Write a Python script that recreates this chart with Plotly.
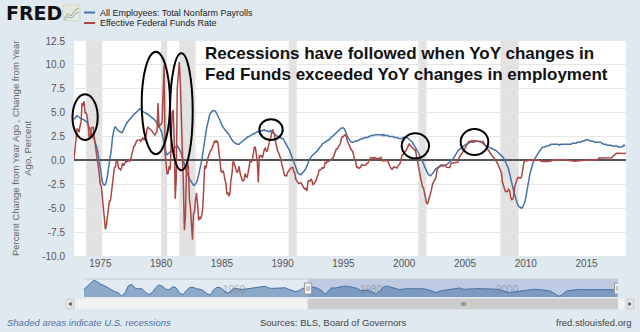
import pandas as pd
import plotly.graph_objects as go

# ---------------- data (monthly, starting Nov 1972) ----------------
series_start = "1972-11-01"

payrolls_yoy = [
    4.3, 4.4,
    4.6, 4.7, 4.6, 4.5, 4.5, 4.4, 4.3, 4.3, 4.2, 4.2, 4.1, 4.0,
    3.7, 3.4, 3.1, 2.9, 2.7, 2.4, 2.2, 1.9, 1.6, 1.2, 0.6, -0.2,
    -1.0, -1.6, -2.2, -2.5, -2.6, -2.5, -2.2, -1.6, -1.0, -0.4, 0.2, 1.2,
    2.4, 3.0, 3.4, 3.5, 3.3, 3.2, 3.1, 3.0, 3.0, 2.9, 3.0, 3.3,
    3.5, 3.7, 3.9, 4.0, 4.2, 4.3, 4.4, 4.5, 4.6, 4.8, 4.9, 5.0,
    5.1, 5.2, 5.3, 5.4, 5.3, 5.2, 5.1, 5.1, 5.0, 4.9, 4.9, 4.8,
    4.7, 4.6, 4.6, 4.5, 4.4, 4.3, 4.2, 4.0, 3.9, 3.8, 3.6, 3.4,
    3.1, 2.8, 2.4, 1.8, 1.1, 0.7, 0.6, 0.7, 0.8, 0.9, 1.1, 1.2,
    1.3, 1.4, 1.4, 1.4, 1.5, 1.4, 1.2, 1.0, 0.7, 0.3, 0.0, -0.4,
    -0.9, -1.2, -1.5, -1.7, -1.9, -2.1, -2.3, -2.5, -2.6, -2.6, -2.5, -2.3,
    -2.0, -1.6, -1.1, -0.6, -0.1, 0.5, 1.2, 1.9, 2.7, 3.4, 4.0, 4.5,
    4.8, 5.0, 5.1, 5.2, 5.2, 5.2, 5.1, 4.9, 4.7, 4.5, 4.2, 4.0,
    3.7, 3.5, 3.4, 3.2, 3.1, 3.0, 2.9, 2.7, 2.5, 2.3, 2.1, 2.0,
    1.9, 1.8, 1.7, 1.7, 1.7, 1.7, 1.8, 1.9, 2.0, 2.1, 2.1, 2.2,
    2.3, 2.4, 2.5, 2.5, 2.6, 2.7, 2.7, 2.8, 2.8, 2.9, 2.9, 3.0,
    3.0, 3.1, 3.1, 3.1, 3.1, 3.2, 3.2, 3.1, 3.1, 3.1, 3.0, 3.0,
    3.1, 3.0, 2.9, 2.9, 2.8, 2.7, 2.6, 2.5, 2.5, 2.4, 2.4, 2.3,
    2.3, 2.2, 2.0, 1.8, 1.7, 1.5, 1.3, 1.0, 0.7, 0.4, 0.1, -0.3,
    -0.6, -0.9, -1.1, -1.3, -1.4, -1.5, -1.5, -1.4, -1.3, -1.2, -1.0, -0.8,
    -0.6, -0.3, 0.0, 0.2, 0.4, 0.5, 0.6, 0.7, 0.8, 0.9, 1.0, 1.1,
    1.3, 1.4, 1.5, 1.7, 1.8, 1.9, 2.0, 2.0, 2.1, 2.1, 2.2, 2.3,
    2.4, 2.5, 2.6, 2.7, 2.8, 2.9, 3.0, 3.1, 3.2, 3.3, 3.4, 3.4,
    3.4, 3.3, 3.0, 2.7, 2.5, 2.3, 2.1, 2.0, 1.9, 1.9, 1.9, 2.0,
    2.0, 2.0, 2.1, 2.1, 2.2, 2.2, 2.3, 2.3, 2.3, 2.4, 2.4, 2.4,
    2.4, 2.5, 2.5, 2.6, 2.6, 2.6, 2.6, 2.7, 2.7, 2.7, 2.7, 2.7,
    2.7, 2.7, 2.7, 2.6, 2.7, 2.6, 2.6, 2.6, 2.6, 2.5, 2.5, 2.5,
    2.5, 2.5, 2.4, 2.4, 2.4, 2.4, 2.3, 2.3, 2.3, 2.3, 2.3, 2.4,
    2.4, 2.4, 2.4, 2.4, 2.3, 2.2, 2.1, 2.0, 1.9, 1.7, 1.6, 1.4,
    1.2, 1.0, 0.8, 0.6, 0.4, 0.2, 0.0, -0.3, -0.6, -0.9, -1.1, -1.3,
    -1.5, -1.6, -1.6, -1.5, -1.4, -1.3, -1.1, -0.9, -0.8, -0.7, -0.6, -0.6,
    -0.6, -0.5, -0.6, -0.5, -0.5, -0.5, -0.4, -0.4, -0.3, -0.2, -0.1, 0.0,
    0.1, 0.3, 0.5, 0.7, 0.9, 1.0, 1.1, 1.2, 1.3, 1.4, 1.5, 1.6,
    1.6, 1.7, 1.7, 1.8, 1.8, 1.9, 1.9, 1.9, 1.9, 1.9, 2.0, 2.0,
    2.0, 2.0, 2.0, 2.0, 1.9, 1.8, 1.8, 1.7, 1.6, 1.5, 1.5, 1.4,
    1.4, 1.3, 1.3, 1.2, 1.2, 1.1, 1.1, 1.0, 0.9, 0.8, 0.8, 0.7,
    0.6, 0.4, 0.3, 0.1, -0.1, -0.3, -0.6, -0.9, -1.3, -1.7, -2.2, -2.7,
    -3.2, -3.6, -4.0, -4.3, -4.6, -4.8, -4.9, -5.0, -5.0, -4.9, -4.7, -4.4,
    -3.9, -3.4, -2.8, -2.1, -1.5, -1.0, -0.6, -0.3, 0.0, 0.2, 0.4, 0.5,
    0.7, 0.9, 1.0, 1.2, 1.3, 1.4, 1.4, 1.4, 1.5, 1.5, 1.5, 1.6,
    1.6, 1.7, 1.7, 1.7, 1.7, 1.7, 1.7, 1.7, 1.7, 1.6, 1.7, 1.7,
    1.7, 1.7, 1.7, 1.7, 1.7, 1.7, 1.7, 1.7, 1.7, 1.7, 1.8, 1.8,
    1.8, 1.8, 1.8, 1.9, 1.9, 1.9, 1.9, 2.0, 2.0, 2.0, 2.1, 2.1,
    2.2, 2.2, 2.1, 2.1, 2.1, 2.0, 2.0, 2.0, 1.9, 1.9, 1.9, 1.9,
    1.9, 1.9, 1.9, 1.8, 1.7, 1.7, 1.7, 1.7, 1.6, 1.6, 1.6, 1.6,
    1.6, 1.5, 1.5, 1.5, 1.5, 1.5, 1.5, 1.4, 1.4, 1.4, 1.4, 1.4,
    1.5, 1.6, 1.5,
]

fedfunds_change = [
    0.15, 1.19,
    2.65, 3.29, 3.26, 2.95, 3.57, 4.03, 6.0, 5.7, 6.2, 4.97, 4.97, 4.62,
    3.71, 2.39, 2.26, 3.39, 3.47, 3.44, 2.52, 1.51, 0.56, 0.05, -0.58, -1.42,
    -2.52, -2.73, -3.81, -5.02, -6.09, -7.2, -6.82, -5.87, -5.10, -4.24, -4.23, -3.33,
    -2.26, -1.47, -0.70, -0.67, 0.07, -0.07, -0.79, -0.85, -0.99, -0.79, -0.27, -0.55,
    -0.26, -0.09, -0.15, -0.09, 0.06, -0.09, 0.11, 0.61, 0.89, 1.44, 1.56, 1.91,
    2.09, 2.10, 2.10, 2.16, 2.01, 2.21, 2.39, 2.14, 2.31, 2.49, 3.25, 3.47,
    3.37, 3.28, 3.30, 3.12, 2.88, 2.69, 2.66, 2.90, 2.98, 6.0, 3.42, 3.75,
    3.75, 4.07, 8.5, 10.0, 0.74, -0.82, -1.44, -1.33, -0.56, -0.96, 2.67, 5.12,
    5.26, 1.80, -4.0, -1.89, 7.54, 9.63, 10.3, 8.21, 5.00, 2.27, -2.54, -7.3,
    -5.86, -1.15, -0.02, -0.78, -4.07, -4.95, -6.45, -8.3, -5.56, -5.37, -4.11, -3.42,
    -4.54, -6.27, -5.91, -6.14, -5.82, -5.17, -3.22, -0.56, -0.86, -0.23, 0.14, 0.52,
    0.88, 1.08, 1.14, 1.49, 1.69, 2.08, 1.86, 2.08, 1.85, 0.51, 0.09, -1.09,
    -1.21, -1.09, -1.33, -2.02, -2.35, -3.53, -3.35, -3.74, -3.38, -2.00, -1.38, -0.11,
    -0.21, -0.64, -1.10, -1.28, -1.12, -0.61, -1.32, -1.73, -2.03, -2.14, -2.01, -1.36,
    -1.71, -1.76, -1.35, -0.62, 0.00, -0.19, 0.02, 0.56, 1.33, 1.44, 0.65, -0.14,
    -2.3, 0.48, 0.45, 0.50, 0.24, 0.78, 1.17, 1.28, 0.97, 1.01, 1.66, 1.99,
    2.29, 2.78, 3.27, 2.97, 2.72, 2.02, 1.49, 0.98, 0.83, 0.54, 0.20, -0.31,
    -0.89, -1.12, -1.57, -1.58, -1.63, -1.24, -1.09, -0.86, -0.82, -0.73, -0.74, -1.14,
    -1.32, -1.99, -2.16, -2.35, -2.40, -2.39, -2.33, -2.47, -2.75, -2.90, -3.00, -2.88,
    -3.2, -2.19, -2.14, -2.18, -1.96, -2.14, -2.57, -2.36, -2.23, -2.11, -1.72, -1.51,
    -1.01, -1.03, -0.91, -0.77, -0.82, -0.72, -0.19, -0.27, -0.13, -0.11, -0.07, 0.04,
    0.03, 0.22, 0.27, 0.60, 1.01, 1.21, 1.20, 1.44, 1.64, 1.77, 2.27, 2.49,
    2.48, 2.67, 2.64, 2.49, 2.00, 1.75, 1.59, 1.27, 1.07, 1.00, 0.51, 0.15,
    0.03, -0.70, -0.67, -0.83, -0.77, -0.73, -0.45, -0.52, -0.50, -0.52, -0.49, -0.31,
    -0.31, -0.03, 0.08, 0.29, 0.26, 0.29, 0.12, 0.32, 0.24, 0.26, 0.21, 0.21,
    0.31, 0.32, 0.10, -0.06, -0.01, 0.00, 0.02, 0.01, -0.03, -0.43, -0.69, -0.82,
    -0.93, -0.75, -0.68, -0.71, -0.75, -0.80, -0.55, -0.48, -0.29, 0.13, 0.59, 0.62,
    0.82, 0.97, 1.04, 1.28, 1.53, 1.77, 1.55, 1.43, 1.30, 1.31, 1.09, 1.10,
    0.53, -0.24, -0.54, -1.22, -2.06, -2.56, -2.77, -2.85, -3.45, -4.02, -4.42, -4.58,
    -4.25, -3.75, -3.58, -3.05, -2.46, -2.22, -2.04, -1.91, -1.32, -0.74, -0.75, -0.58,
    -0.49, -0.48, -0.48, -0.49, -0.49, -0.53, -0.72, -0.71, -0.74, -0.74, -0.34, -0.26,
    -0.24, -0.25, -0.25, -0.26, -0.26, -0.19, 0.25, 0.40, 0.60, 0.75, 0.93, 1.18,
    1.28, 1.49, 1.63, 1.79, 2.00, 2.01, 2.00, 2.07, 2.01, 2.02, 2.07, 2.00,
    2.01, 1.99, 1.96, 2.00, 1.94, 1.95, 1.98, 1.75, 1.63, 1.47, 1.25, 1.08,
    0.96, 0.77, 0.67, 0.46, 0.31, 0.26, 0.02, -0.23, -0.31, -0.49, -0.76, -1.00,
    -1.31, -2.28, -2.65, -2.97, -3.27, -3.25, -3.25, -3.02, -3.13, -3.79, -4.10, -4.08,
    -3.79, -2.76, -2.43, -2.13, -1.80, -1.79, -1.85, -1.84, -1.66, -0.85, -0.27, -0.04,
    -0.04, -0.09, -0.02, 0.05, 0.02, -0.03, 0.02, 0.03, 0.04, 0.07, 0.07, 0.06,
    0.06, 0.03, -0.02, -0.10, -0.11, -0.09, -0.11, -0.09, -0.11, -0.12, -0.11, -0.11,
    -0.09, -0.06, -0.01, 0.04, 0.07, 0.07, 0.09, 0.03, 0.06, 0.09, 0.08, 0.09,
    0.06, 0.05, 0.01, 0.01, -0.05, -0.07, -0.07, -0.05, -0.06, -0.07, -0.08, -0.07,
    -0.07, -0.08, -0.06, -0.06, -0.02, 0.01, 0.00, 0.01, 0.01, 0.00, 0.01, 0.03,
    0.04, 0.04, 0.03, 0.03, 0.03, 0.03, 0.04, 0.05, 0.05, 0.03, 0.03, 0.12,
    0.23, 0.27, 0.25, 0.25, 0.25, 0.25, 0.26, 0.26, 0.26, 0.28, 0.29, 0.30,
    0.31, 0.28, 0.43, 0.53, 0.54, 0.66, 0.76, 0.76, 0.75, 0.75, 0.75, 0.76,
    0.76, 0.76, 0.72, 0.79,
]

# navigator: earlier payroll history (semiannual, Jan/Jul 1940..1972)
navigator_start = "1940-01-01"
navigator_early = [
    2.0, 5.0, 9.0, 11.5, 9.5, 7.0, 5.5, 3.5, 1.0, -0.5, -1.5, -5.0,
    -2.0, 5.5, 7.0, 3.0, 2.5, 2.5, -1.0, -3.5, -1.5, 3.5, 6.5, 5.0,
    2.0, 1.5, 4.5, 3.5, -2.0, -3.5, 0.5, 4.0, 4.0, 2.5, 2.0, 0.5,
    -2.5, -4.0, 1.5, 4.0, 3.5, 0.5, -2.0, 0.0, 3.0, 2.5, 1.8, 2.0,
    2.5, 3.0, 3.5, 4.0, 5.0, 5.0, 3.5, 2.8, 3.0, 3.2, 3.5, 3.5,
    2.0, 0.5, -0.5, 0.5, 2.8, 3.5,
]

recession_starts = ["1973-11-01", "1980-01-01", "1981-07-01", "1990-07-01", "2001-03-01", "2007-12-01"]
recession_ends = ["1975-03-01", "1980-07-01", "1982-11-01", "1991-03-01", "2001-11-01", "2009-06-01"]

y_tick_values = [-10, -7.5, -5, -2.5, 0, 2.5, 5, 7.5, 10, 12.5]
y_tick_labels = ["-10.0", "-7.5", "-5.0", "-2.5", "0.0", "2.5", "5.0", "7.5", "10.0", "12.5"]
x_tick_years = [1975, 1980, 1985, 1990, 1995, 2000, 2005, 2010, 2015]
navigator_label_years = [1960, 1980, 2000]

view_start, view_end = "1972-11-01", "2018-04-01"
nav_range = ["1940-01-01", "2018-04-01"]

# ---------------- geometry helpers (pixel -> paper) ----------------
W, H = 640, 332
PL, PR, PT, PB = 74, 626, 41, 297
MAIN_BOTTOM, NAV_TOP = 256, 279


def fx(x):
    return (x - PL) / (PR - PL)


def fy(y):
    return (PB - y) / (PB - PT)


BG = "#e1e9f0"
BLUE = "#4572a7"
RED = "#aa4643"
FONT = "Liberation Sans, Arial, sans-serif"

payroll_dates = pd.date_range(series_start, periods=len(payrolls_yoy), freq="MS")
ff_dates = pd.date_range(series_start, periods=len(fedfunds_change), freq="MS")
nav_early_dates = pd.date_range(navigator_start, periods=len(navigator_early), freq="6MS")
nav_x = list(nav_early_dates) + list(payroll_dates)
nav_y = list(navigator_early) + list(payrolls_yoy)
nav_floor = -6.0

fig = go.Figure()
fig.add_trace(go.Scatter(x=payroll_dates, y=payrolls_yoy, mode="lines",
                         line=dict(color=BLUE, width=1.5), name="All Employees: Total Nonfarm Payrolls",
                         xaxis="x", yaxis="y", hoverinfo="skip"))
fig.add_trace(go.Scatter(x=ff_dates, y=fedfunds_change, mode="lines",
                         line=dict(color=RED, width=1.5), name="Effective Federal Funds Rate",
                         xaxis="x", yaxis="y", hoverinfo="skip"))
# navigator
fig.add_trace(go.Scatter(x=nav_x, y=[nav_floor] * len(nav_x), mode="lines",
                         line=dict(width=0, color=BLUE), xaxis="x2", yaxis="y2", hoverinfo="skip"))
fig.add_trace(go.Scatter(x=nav_x, y=nav_y, mode="lines", fill="tonexty",
                         fillcolor="rgba(69,114,167,0.55)", line=dict(color=BLUE, width=1),
                         xaxis="x2", yaxis="y2", hoverinfo="skip"))

shapes = []
# white plot background for main panel
shapes.append(dict(type="rect", xref="x domain", yref="y domain", x0=0, x1=1, y0=0, y1=1,
                   fillcolor="white", line=dict(width=0), layer="below"))
for s, e in zip(recession_starts, recession_ends):
    shapes.append(dict(type="rect", xref="x", yref="y", x0=s, x1=e, y0=-10, y1=12.5,
                       fillcolor="#e2e2e2", line=dict(width=0), layer="below"))

# annotation ellipses (pixel boxes)
ellipses = [(72.5, 94.3, 97.7, 140), (141.7, 51.7, 170, 154.3), (170, 53.3, 192.7, 170.3),
            (259.3, 119.3, 282.7, 140), (401.7, 133.3, 429, 158.3), (460.7, 129, 488.3, 155)]
for x0, y0, x1, y1 in ellipses:
    shapes.append(dict(type="circle", xref="paper", yref="paper", x0=fx(x0), x1=fx(x1),
                       y0=fy(y1), y1=fy(y0), line=dict(color="black", width=2)))

# navigator decorations
shapes.append(dict(type="rect", xref="x2 domain", yref="y2 domain", x0=0, x1=1, y0=0, y1=1,
                   fillcolor="#e4eaf1", line=dict(width=0), layer="below"))
shapes.append(dict(type="rect", xref="x2", yref="y2 domain", x0=view_start, x1=view_end, y0=0, y1=1,
                   fillcolor="rgba(102,133,194,0.3)", line=dict(width=0), layer="below"))
shapes.append(dict(type="line", xref="paper", yref="paper", x0=fx(84), x1=fx(618),
                   y0=fy(NAV_TOP), y1=fy(NAV_TOP), line=dict(color="#c8c8c8", width=1)))
for d in (view_start, view_end):
    shapes.append(dict(type="rect", xref="x2", xsizemode="pixel", xanchor=d, x0=-3.5, x1=3.5,
                       yref="paper", y0=fy(294), y1=fy(283), fillcolor="#f2f2f2",
                       line=dict(color="#999999", width=1)))
    for off in (-1, 1):
        shapes.append(dict(type="line", xref="x2", xsizemode="pixel", xanchor=d, x0=off, x1=off,
                           yref="paper", y0=fy(291), y1=fy(286), line=dict(color="#999999", width=1)))
# scrollbar
shapes.append(dict(type="rect", xref="paper", yref="paper", x0=fx(66), x1=fx(634), y0=fy(309), y1=fy(299),
                   fillcolor="#f2f2f2", line=dict(color="#eeeeee", width=1)))
shapes.append(dict(type="rect", xref="x2", yref="paper", x0=view_start, x1=view_end, y0=fy(309), y1=fy(299),
                   fillcolor="#cccccc", line=dict(color="#cccccc", width=1)))
for bx0, bx1 in ((66, 74), (626, 634)):
    shapes.append(dict(type="rect", xref="paper", yref="paper", x0=fx(bx0), x1=fx(bx1), y0=fy(309), y1=fy(299),
                       fillcolor="#e6e6e6", line=dict(color="#cccccc", width=1)))
shapes.append(dict(type="path", xref="paper", yref="paper", fillcolor="#333333", line=dict(width=0),
                   path=f"M {fx(71.5)} {fy(302)} L {fx(71.5)} {fy(306)} L {fx(68.5)} {fy(304)} Z"))
shapes.append(dict(type="path", xref="paper", yref="paper", fillcolor="#333333", line=dict(width=0),
                   path=f"M {fx(628.5)} {fy(302)} L {fx(628.5)} {fy(306)} L {fx(631.5)} {fy(304)} Z"))

# legend swatches and FRED icon
shapes.append(dict(type="line", xref="paper", yref="paper", x0=fx(84), x1=fx(95), y0=fy(12.5), y1=fy(12.5),
                   line=dict(color=BLUE, width=2)))
shapes.append(dict(type="line", xref="paper", yref="paper", x0=fx(84), x1=fx(95), y0=fy(23), y1=fy(23),
                   line=dict(color=RED, width=2)))
shapes.append(dict(type="rect", xref="paper", yref="paper", x0=fx(63), x1=fx(80), y0=fy(21), y1=fy(5),
                   fillcolor="#e4e8de", line=dict(color="#d0d6cc", width=1)))
shapes.append(dict(type="path", xref="paper", yref="paper", line=dict(color="#8fb07f", width=1),
                   path=f"M {fx(64)} {fy(18)} L {fx(68)} {fy(14)} L {fx(71)} {fy(16)} L {fx(75)} {fy(10)} L {fx(79)} {fy(8)}"))
shapes.append(dict(type="path", xref="paper", yref="paper", line=dict(color="#8fa8cc", width=1),
                   path=f"M {fx(64)} {fy(20)} L {fx(68)} {fy(17)} L {fx(72)} {fy(18)} L {fx(76)} {fy(13)} L {fx(79)} {fy(12)}"))

annotations = []


def text(x, y, s, size, color="#333333", xanchor="left", bold=False, italic=False, angle=0, family=FONT):
    if bold:
        s = f"<b>{s}</b>"
    if italic:
        s = f"<i>{s}</i>"
    annotations.append(dict(xref="paper", yref="paper", x=fx(x), y=fy(y), text=s, showarrow=False,
                            xanchor=xanchor, yanchor="middle", textangle=angle,
                            font=dict(size=size, color=color, family=family)))


text(4, 13, "FRED", 19, color="#111111", bold=True, family="DejaVu Sans, Arial, sans-serif")
text(98, 12.5, "All Employees: Total Nonfarm Payrolls", 9, color="#222222")
text(98, 23, "Effective Federal Funds Rate", 9, color="#222222")
text(203, 53, "Recessions have followed when YoY changes in", 17, color="#111111", bold=True)
text(203, 74, "Fed Funds exceeded YoY changes in employment", 17, color="#111111", bold=True)
text(21.5, 148.5, "Percent Change from Year Ago , Change from Year<br>Ago, Percent", 9.5,
     color="#666666", xanchor="center", angle=-90)
text(5, 322, "Shaded areas indicate U.S. recessions", 9.5, color="#4a72a8", italic=True)
text(258, 322, "Sources: BLS, Board of Governors", 9.5, color="#444444")
text(634, 322, "fred.stlouisfed.org", 9.5, color="#444444", xanchor="right")
text(463, 304, "III", 6, color="#444444", xanchor="center")
for yr in navigator_label_years:
    annotations.append(dict(xref="x2", yref="paper", x=f"{yr}-01-01", y=fy(289), text=str(yr),
                            showarrow=False, xanchor="left", yanchor="middle", xshift=1,
                            font=dict(size=10, color="rgba(120,120,120,0.55)", family=FONT)))

fig.update_layout(
    width=W, height=H,
    margin=dict(l=PL, r=W - PR, t=PT, b=H - PB, pad=0),
    paper_bgcolor=BG, plot_bgcolor=BG,
    showlegend=False,
    xaxis=dict(domain=[0, 1], anchor="y", type="date", range=[view_start, view_end],
               tickmode="array", tickvals=[f"{y}-01-01" for y in x_tick_years],
               ticktext=[str(y) for y in x_tick_years], showgrid=False, zeroline=False,
               showline=False, ticks="", tickfont=dict(size=10, color="#555555", family=FONT)),
    yaxis=dict(domain=[fy(MAIN_BOTTOM), 1], anchor="x", range=[-10, 12.5], tickmode="array",
               tickvals=y_tick_values, ticktext=y_tick_labels, showgrid=True, gridcolor="#e6e6e6",
               gridwidth=1, zeroline=True, zerolinecolor="#555555", zerolinewidth=2, showline=False,
               ticks="", ticklabelstandoff=8, tickfont=dict(size=10, color="#555555", family=FONT)),
    xaxis2=dict(domain=[fx(84), fx(618)], anchor="y2", type="date", range=nav_range, visible=False),
    yaxis2=dict(domain=[0, fy(NAV_TOP)], anchor="x2", range=[nav_floor, 12.5], visible=False),
    shapes=shapes,
    annotations=annotations,
)

fig.write_html("out.html")
